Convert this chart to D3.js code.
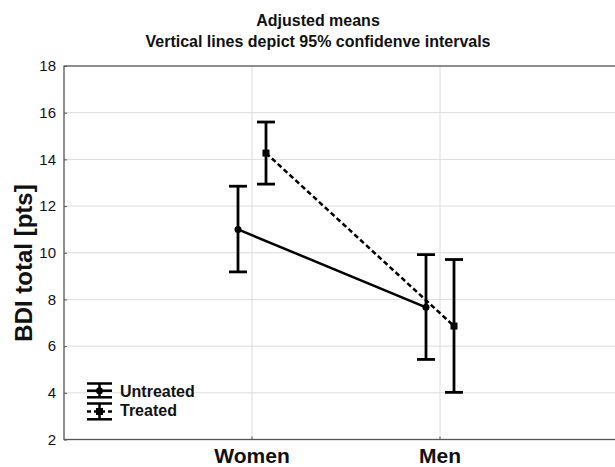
<!DOCTYPE html>
<html>
<head>
<meta charset="utf-8">
<script src="https://cdn.jsdelivr.net/npm/d3@7"></script>
<style>
  html, body { margin: 0; padding: 0; background: #fff; }
  svg { display: block; font-family: "Liberation Sans", Arial, sans-serif; }
</style>
</head>
<body>
<svg id="chart" width="615" height="467"></svg>
<script>
// ---- data ----
const categories = ["Women", "Men"];
const seriesNames = ["Untreated", "Treated"];
const untreatedMean = [11.0, 7.66];
const untreatedLow  = [9.18, 5.43];
const untreatedHigh = [12.85, 9.92];
const treatedMean   = [14.27, 6.86];
const treatedLow    = [12.94, 4.02];
const treatedHigh   = [15.6, 9.71];
const yTicks = [2, 4, 6, 8, 10, 12, 14, 16, 18];
const titleLines = ["Adjusted means", "Vertical lines depict 95% confidenve intervals"];
const yLabel = "BDI total [pts]";

(function () {
// ---- layout ----
const svg = d3.select("#chart");
const pLeft = 64, pTop = 66, pBottom = 439.5, pRight = 628;
const x = d3.scaleLinear().domain([0, categories.length + 1]).range([pLeft, pRight]);
const y = d3.scaleLinear().domain([2, 18]).range([pBottom, pTop]);
const dodge = 14, capHalf = 9;

// gridlines
svg.append("g").selectAll("line").data(yTicks.slice(1, -1)).join("line")
  .attr("x1", pLeft).attr("x2", 615).attr("y1", d => y(d)).attr("y2", d => y(d))
  .attr("stroke", "#dcdcdc").attr("stroke-width", 1);
svg.append("g").selectAll("line").data(categories).join("line")
  .attr("x1", (d, i) => x(i + 1)).attr("x2", (d, i) => x(i + 1))
  .attr("y1", pTop).attr("y2", pBottom)
  .attr("stroke", "#dcdcdc").attr("stroke-width", 1);

// y axis
const yAxis = d3.axisLeft(y).tickValues(yTicks).tickSize(-3).tickPadding(8).tickFormat(d3.format("d"));
const ga = svg.append("g").attr("transform", `translate(${pLeft},0)`).call(yAxis);
ga.select(".domain").remove();
ga.selectAll(".tick line").attr("stroke", "#555");
ga.selectAll(".tick text").attr("font-size", 15).attr("fill", "#111")
  .attr("font-family", "Liberation Sans, Arial, sans-serif");

// bottom ticks at categories
svg.append("g").selectAll("line").data(categories).join("line")
  .attr("x1", (d, i) => x(i + 1)).attr("x2", (d, i) => x(i + 1))
  .attr("y1", pBottom).attr("y2", pBottom - 3).attr("stroke", "#555");

// frame
svg.append("rect").attr("x", pLeft).attr("y", pTop)
  .attr("width", pRight - pLeft).attr("height", pBottom - pTop)
  .attr("fill", "none").attr("stroke", "#555").attr("stroke-width", 1.3);

// title
svg.append("text").attr("x", 318).attr("y", 26).attr("text-anchor", "middle")
  .attr("font-size", 16).attr("font-weight", "bold").attr("fill", "#111").text(titleLines[0]);
svg.append("text").attr("x", 318).attr("y", 46.5).attr("text-anchor", "middle")
  .attr("font-size", 16).attr("font-weight", "bold").attr("fill", "#111").text(titleLines[1]);

// y label
svg.append("text").attr("transform", "translate(32,263) rotate(-90)")
  .attr("text-anchor", "middle").attr("font-size", 24).attr("font-weight", "bold")
  .attr("fill", "#111").text(yLabel);

// x labels
svg.append("g").selectAll("text").data(categories).join("text")
  .attr("x", (d, i) => x(i + 1)).attr("y", 463).attr("text-anchor", "middle")
  .attr("font-size", 21).attr("font-weight", "bold").attr("fill", "#111").text(d => d);

// series
const series = [
  { name: seriesNames[0], mean: untreatedMean, low: untreatedLow, high: untreatedHigh, off: -dodge, dash: null, marker: "circle" },
  { name: seriesNames[1], mean: treatedMean, low: treatedLow, high: treatedHigh, off: dodge, dash: "5,3", marker: "square" }
];

series.forEach(s => {
  const px = i => x(i + 1) + s.off;
  const g = svg.append("g");
  g.append("path")
    .attr("d", d3.line().x((d, i) => px(i)).y(d => y(d))(s.mean))
    .attr("fill", "none").attr("stroke", "#000").attr("stroke-width", 2.5)
    .attr("stroke-dasharray", s.dash);
  s.mean.forEach((m, i) => {
    const cx = px(i);
    g.append("line").attr("x1", cx).attr("x2", cx).attr("y1", y(s.low[i])).attr("y2", y(s.high[i]))
      .attr("stroke", "#000").attr("stroke-width", 2.8);
    [s.low[i], s.high[i]].forEach(v => {
      g.append("line").attr("x1", cx - capHalf).attr("x2", cx + capHalf)
        .attr("y1", y(v)).attr("y2", y(v)).attr("stroke", "#000").attr("stroke-width", 2.8);
    });
    if (s.marker === "circle") {
      g.append("circle").attr("cx", cx).attr("cy", y(m)).attr("r", 3.5).attr("fill", "#000");
    } else {
      g.append("rect").attr("x", cx - 3.5).attr("y", y(m) - 3.5).attr("width", 7).attr("height", 7).attr("fill", "#000");
    }
  });
});

// legend
const lg = svg.append("g");
const lx0 = 87, lx1 = 112, lcx = (lx0 + lx1) / 2;
const rows = [
  { s: series[0], t: 383.5, mid: 390.7, b: 397.3, ty: 397 },
  { s: series[1], t: 403.5, mid: 411.5, b: 419.3, ty: 415.5 }
];
rows.forEach(r => {
  lg.append("line").attr("x1", lcx).attr("x2", lcx).attr("y1", r.t).attr("y2", r.b)
    .attr("stroke", "#000").attr("stroke-width", 2.5);
  [r.t, r.b].forEach(v => lg.append("line").attr("x1", lx0).attr("x2", lx1)
    .attr("y1", v).attr("y2", v).attr("stroke", "#000").attr("stroke-width", 2.5));
  lg.append("line").attr("x1", lx0).attr("x2", lx1).attr("y1", r.mid).attr("y2", r.mid)
    .attr("stroke", "#000").attr("stroke-width", 2.5).attr("stroke-dasharray", r.s.dash ? "4,3" : null);
  if (r.s.marker === "circle") {
    lg.append("circle").attr("cx", lcx).attr("cy", r.mid).attr("r", 3.5).attr("fill", "#000");
  } else {
    lg.append("rect").attr("x", lcx - 3.5).attr("y", r.mid - 3.5).attr("width", 7).attr("height", 7).attr("fill", "#000");
  }
  lg.append("text").attr("x", 120).attr("y", r.ty).attr("font-size", 16).attr("font-weight", "bold")
    .attr("fill", "#111").text(r.s.name);
});
})();
</script>
</body>
</html>
